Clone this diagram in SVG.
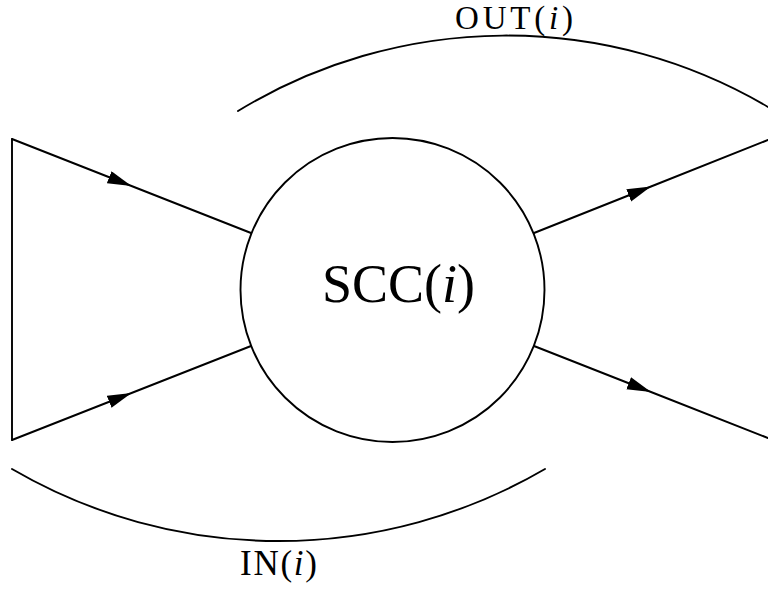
<svg xmlns="http://www.w3.org/2000/svg" width="768" height="590" viewBox="0 0 768 590">
<style>
.ln{fill:none;stroke:#000;stroke-width:1.9;stroke-linecap:round;stroke-linejoin:miter}
.lbl{font-family:"Liberation Serif","DejaVu Serif",serif;fill:#000}
.it{font-style:italic}
</style>
<defs>
<marker id="arr" markerUnits="userSpaceOnUse" markerWidth="26" markerHeight="14" refX="24" refY="6.5" orient="auto">
<path d="M0,0 L24,6.5 L0,13 z" fill="#000"/>
</marker>
</defs>
<rect width="768" height="590" fill="#fff"/>
<g id="connectors">
<line class="ln" x1="12" y1="139" x2="12" y2="440"/>
<path class="ln" d="M12,139 L131.5,186 L251,233" marker-mid="url(#arr)"/>
<path class="ln" d="M12,440 L131.5,393 L251,346" marker-mid="url(#arr)"/>
<path class="ln" d="M534,233 L651,186.5 L768,140" marker-mid="url(#arr)"/>
<path class="ln" d="M534,346 L651,392 L768,438" marker-mid="url(#arr)"/>
</g>
<g id="scc">
<circle class="ln" cx="392.5" cy="290" r="152"/>
<text class="lbl" x="398.5" y="302" font-size="54" text-anchor="middle" textLength="153" lengthAdjust="spacing">SCC(<tspan class="it">i</tspan>)</text>
</g>
<g id="out">
<path class="ln" d="M238,111 A515,515 0 0 1 768,107"/>
<text class="lbl" x="514" y="29" font-size="33" text-anchor="middle" textLength="118" lengthAdjust="spacing">OUT(<tspan class="it">i</tspan>)</text>
</g>
<g id="in">
<path class="ln" d="M12,469 A529,529 0 0 0 545,469"/>
<text class="lbl" x="278.5" y="575" font-size="35" text-anchor="middle" textLength="77" lengthAdjust="spacing">IN(<tspan class="it">i</tspan>)</text>
</g>
</svg>
